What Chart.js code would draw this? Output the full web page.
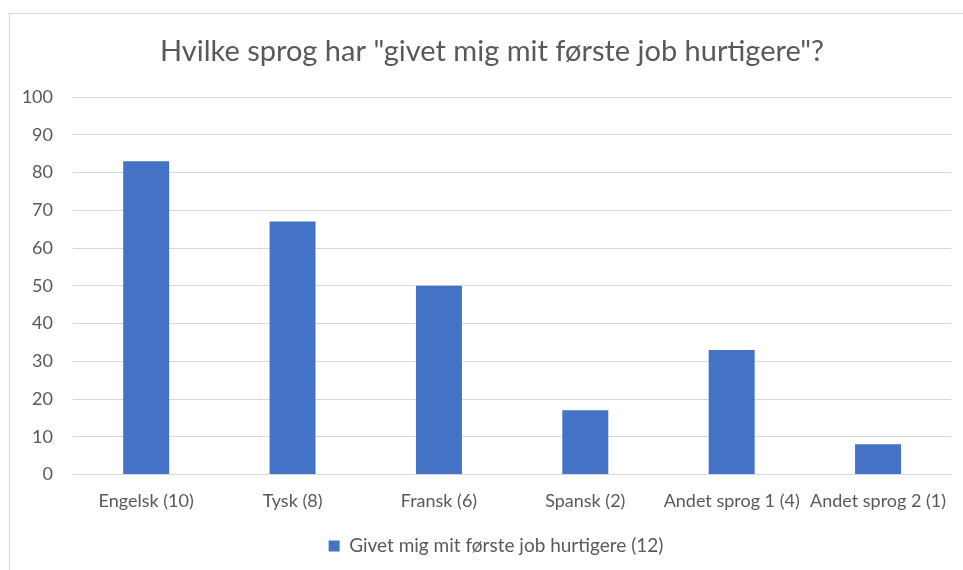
<!DOCTYPE html>
<html>
<head>
<meta charset="utf-8">
<script src="https://cdn.jsdelivr.net/npm/chart.js@4"></script>
<style>
  html, body { margin: 0; padding: 0; background: #fff; }
  #wrap { position: relative; width: 963px; height: 570px; }
</style>
</head>
<body>
<div id="wrap"><canvas id="sprogChart" width="963" height="570"></canvas></div>
<script>
const labels = ['Engelsk (10)', 'Tysk (8)', 'Fransk (6)', 'Spansk (2)', 'Andet sprog 1 (4)', 'Andet sprog 2 (1)'];
const values = [83, 67, 50, 17, 33, 8];
const seriesName = 'Givet mig mit første job hurtigere (12)';
const titleText = 'Hvilke sprog har "givet mig mit første job hurtigere"?';

const textColor = '#595959';
const gridColor = '#d9d9d9';
const fontFamily = 'Lato, "Open Sans", sans-serif';

// ramme rundt om diagrammet + lidt forskydning af titel og forklaring
const framePlugin = {
    id: 'frame',
    afterLayout(chart) {
        if (chart.legend) {
            chart.legend.left += 10;
            chart.legend.right += 10;
        }
        if (chart.titleBlock) {
            chart.titleBlock.left += 6;
            chart.titleBlock.right += 6;
        }
    },
    beforeDraw(chart) {
        const ctx = chart.ctx;
        ctx.save();
        ctx.strokeStyle = gridColor;
        ctx.lineWidth = 1;
        ctx.strokeRect(9.5, 13.5, 1000, 1000);
        ctx.restore();
    }
};

const ctx = document.getElementById('sprogChart').getContext('2d');
new Chart(ctx, {
    type: 'bar',
    data: {
        labels: labels,
        datasets: [{
            label: seriesName,
            data: values,
            backgroundColor: '#4472C4',
            barPercentage: 1,
            categoryPercentage: 0.314
        }]
    },
    options: {
        responsive: false,
        animation: false,
        layout: { padding: { top: 14, left: 20, right: 11, bottom: 4.5 } },
        plugins: {
            title: {
                display: true,
                text: titleText,
                color: textColor,
                font: { family: fontFamily, size: 29, weight: 'normal' },
                padding: { top: 20.6, bottom: 27.6 }
            },
            legend: {
                position: 'bottom',
                labels: {
                    color: textColor,
                    font: { family: fontFamily, size: 19 },
                    boxWidth: 11,
                    boxHeight: 11,
                    padding: 10
                }
            },
            tooltip: { enabled: false }
        },
        scales: {
            x: {
                grid: { display: false, drawTicks: false },
                border: { color: gridColor },
                ticks: {
                    color: textColor,
                    font: { family: fontFamily, size: 18 },
                    padding: 16,
                    maxRotation: 0,
                    autoSkip: false
                },
                afterFit(scale) { scale.height = 52; }
            },
            y: {
                min: 0,
                max: 100,
                grid: { color: gridColor, drawTicks: false },
                border: { display: false },
                ticks: {
                    stepSize: 10,
                    color: textColor,
                    font: { family: fontFamily, size: 18 },
                    padding: 20
                },
                afterFit(scale) { scale.width = 53; }
            }
        }
    },
    plugins: [framePlugin]
});
</script>
</body>
</html>
